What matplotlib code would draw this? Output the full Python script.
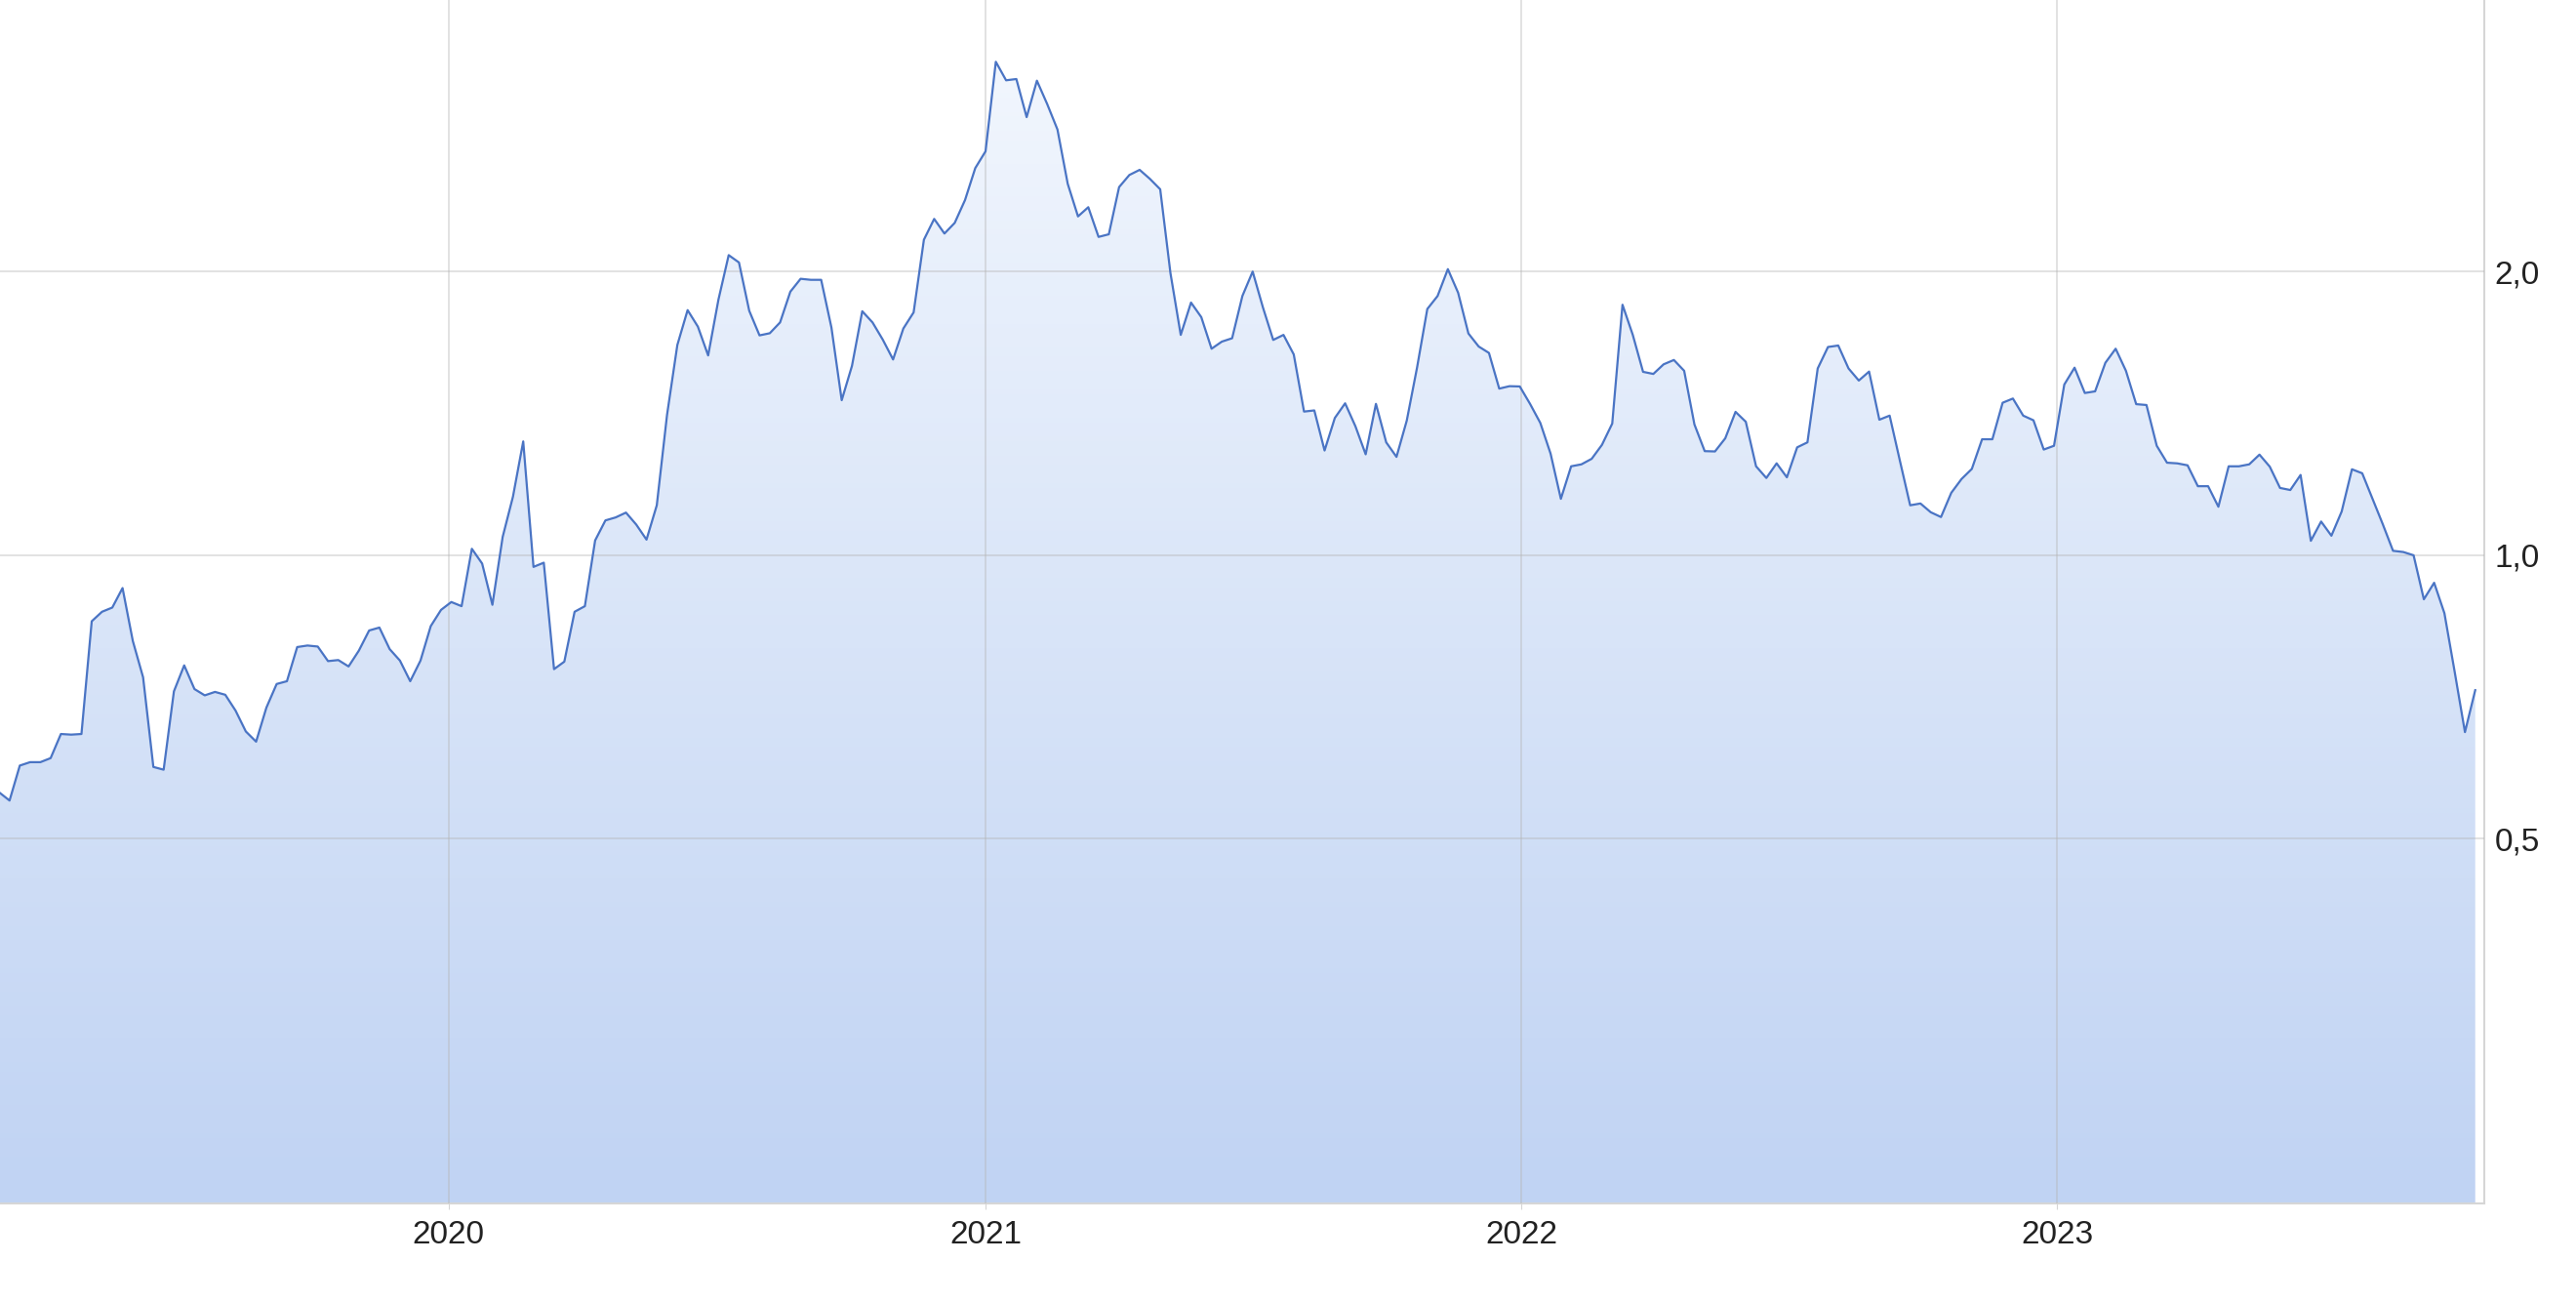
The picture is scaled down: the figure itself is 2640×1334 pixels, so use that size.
import numpy as np
import pandas as pd
import matplotlib
matplotlib.use('Agg')
import matplotlib.pyplot as plt
from matplotlib.colors import LinearSegmentedColormap
from matplotlib.ticker import NullLocator

plt.rcParams['font.family'] = ['Liberation Sans', 'DejaVu Sans']

# Kurs (Wochenwerte)
start = '2019-03-01'
values = [
    0.560, 0.549, 0.598, 0.603, 0.603, 0.609, 0.646, 0.645, 0.646, 0.851,
    0.871, 0.880, 0.923, 0.811, 0.742, 0.596, 0.592, 0.717, 0.764, 0.721,
    0.710, 0.716, 0.711, 0.684, 0.650, 0.634, 0.689, 0.730, 0.735, 0.799,
    0.802, 0.800, 0.772, 0.774, 0.762, 0.792, 0.832, 0.838, 0.795, 0.773,
    0.735, 0.773, 0.841, 0.875, 0.892, 0.883, 1.016, 0.980, 0.886, 1.046,
    1.154, 1.321, 0.972, 0.982, 0.757, 0.771, 0.871, 0.883, 1.037, 1.089,
    1.097, 1.110, 1.078, 1.039, 1.130, 1.410, 1.672, 1.821, 1.749, 1.630,
    1.868, 2.083, 2.046, 1.818, 1.712, 1.721, 1.767, 1.905, 1.966, 1.961,
    1.961, 1.745, 1.461, 1.589, 1.816, 1.767, 1.694, 1.614, 1.741, 1.811,
    2.163, 2.276, 2.196, 2.254, 2.383, 2.577, 2.685, 3.342, 3.194, 3.204,
    2.919, 3.191, 3.014, 2.832, 2.480, 2.290, 2.342, 2.178, 2.192, 2.460,
    2.534, 2.566, 2.510, 2.447, 1.993, 1.714, 1.855, 1.790, 1.657, 1.686,
    1.700, 1.885, 2.001, 1.833, 1.693, 1.714, 1.634, 1.421, 1.425, 1.292,
    1.399, 1.450, 1.371, 1.280, 1.448, 1.318, 1.272, 1.390, 1.582, 1.826,
    1.885, 2.013, 1.900, 1.720, 1.666, 1.640, 1.503, 1.512, 1.511, 1.448,
    1.382, 1.282, 1.148, 1.243, 1.249, 1.266, 1.310, 1.380, 1.845, 1.714,
    1.566, 1.558, 1.595, 1.612, 1.570, 1.377, 1.290, 1.289, 1.331, 1.420,
    1.386, 1.243, 1.208, 1.252, 1.210, 1.302, 1.318, 1.579, 1.664, 1.670,
    1.579, 1.533, 1.567, 1.393, 1.407, 1.260, 1.130, 1.135, 1.111, 1.098,
    1.165, 1.205, 1.235, 1.328, 1.328, 1.452, 1.467, 1.407, 1.391, 1.295,
    1.307, 1.518, 1.582, 1.487, 1.493, 1.601, 1.657, 1.570, 1.447, 1.444,
    1.307, 1.254, 1.252, 1.246, 1.184, 1.184, 1.126, 1.243, 1.243, 1.249,
    1.279, 1.242, 1.179, 1.173, 1.217, 1.036, 1.086, 1.049, 1.113, 1.234,
    1.222, 1.148, 1.079, 1.011, 1.008, 1.000, 0.898, 0.935, 0.868, 0.752,
    0.649, 0.719,
]
dates = pd.date_range(start, periods=len(values), freq='7D')

year_ticks = ['2020', '2021', '2022', '2023']
y_ticks = [0.5, 1.0, 2.0]
y_labels = ['0,5', '1,0', '2,0']

fig = plt.figure(figsize=(26.4, 13.34), dpi=100)
ax = fig.add_axes([0.0, 0.0757, 0.9643, 0.9243])

ax.set_yscale('log')
line, = ax.plot(dates, values, color='#4a74c4', lw=1.6, zorder=3)
ax.set_xlim(pd.Timestamp('2019-03-01 12:00'), pd.Timestamp('2023-10-19'))
ax.set_ylim(0.205, 3.887)
ax.autoscale(False)

# Flaeche mit vertikalem Farbverlauf
poly = ax.fill_between(dates, values, 0.01, facecolor='none', edgecolor='none')
cmap = LinearSegmentedColormap.from_list('grad', ['#f4f8fe', '#c0d3f3'])
grad = np.linspace(0, 1, 256).reshape(-1, 1)
im = ax.imshow(grad, cmap=cmap, aspect='auto', extent=[0, 1, 0, 1],
               transform=ax.transAxes, origin='upper', zorder=1)
im.set_clip_path(poly.get_paths()[0], ax.transData)

# Achsen
ax.set_axisbelow(False)
ax.grid(True, color='#b4b4b4', alpha=0.5, lw=1.1)
for s in ['left', 'top']:
    ax.spines[s].set_visible(False)
for s in ['right', 'bottom']:
    ax.spines[s].set_color('#d6d6d6')
    ax.spines[s].set_linewidth(1.5)

ax.yaxis.tick_right()
ax.set_yticks(y_ticks)
ax.set_yticklabels(y_labels)
ax.yaxis.set_minor_locator(NullLocator())
ax.set_xticks([pd.Timestamp(y + '-01-01') for y in year_ticks])
ax.set_xticklabels(year_ticks)
ax.tick_params(axis='y', length=0, pad=8, labelsize=24, labelcolor='#222222')
ax.tick_params(axis='x', length=4, color='#d6d6d6', pad=8, labelsize=24,
               labelcolor='#222222')

fig.savefig('out.png', dpi=100)
